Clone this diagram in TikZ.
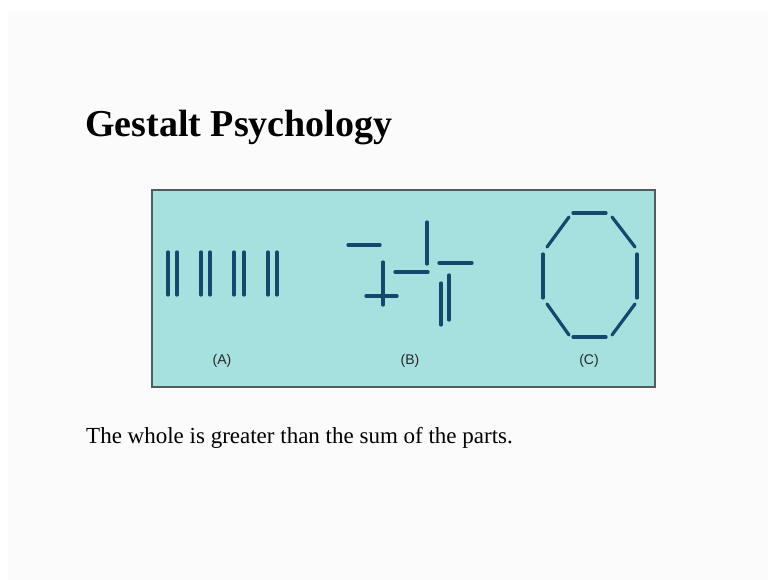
\documentclass[tikz,border=0pt]{standalone}
\usepackage{fontspec}
\setmainfont{Liberation Serif}
\newfontfamily\labelfont{Liberation Sans}
\usetikzlibrary{positioning}
\definecolor{panel}{RGB}{166,225,223}
\definecolor{barblue}{RGB}{20,72,108}
\definecolor{frame}{RGB}{85,90,92}
\definecolor{slide}{RGB}{251,251,251}

\begin{document}
\begin{tikzpicture}[
    x=1pt, y=-1pt,
    bar/.style={draw=barblue, line width=3.2pt, line cap=round},
    caption/.style={font=\labelfont\fontsize{14}{16}\selectfont, text=black!85, inner sep=0pt},
]
\useasboundingbox (0,0) rectangle (768,580);

% Slide background
\fill[slide] (8,11) rectangle (768,580);

% Title
\node[anchor=base west, inner sep=0pt, font=\bfseries\fontsize{38}{42}\selectfont] (title) at (85,136.5) {Gestalt Psychology};

% Figure panel
\draw[frame, fill=panel, line width=1.4pt] (152,190) rectangle (655,387);

% (A) pairs of lines
\draw[bar] (168,252) -- (168,295);
\draw[bar] (177,252) -- (177,295);
\draw[bar] (201,252) -- (201,295);
\draw[bar] (210,252) -- (210,295);
\draw[bar] (234,252) -- (234,295);
\draw[bar] (244,252) -- (244,295);
\draw[bar] (268,252) -- (268,295);
\draw[bar] (277,252) -- (277,295);

% (B) scattered lines
\draw[bar] (348,245) -- (380,245);
\draw[bar] (383,262) -- (383,305);
\draw[bar] (366,296) -- (397,296);
\draw[bar] (395,272) -- (428,272);
\draw[bar] (427,222) -- (427,264);
\draw[bar] (439,263) -- (472,263);
\draw[bar] (449,275) -- (449,320);
\draw[bar] (441,283) -- (441,325);

% (C) octagon
\draw[bar] (573,213) -- (606,213);
\draw[bar] (612,217) -- (635,247);
\draw[bar] (637,254) -- (637,298);
\draw[bar] (635,304) -- (612,335);
\draw[bar] (606,337) -- (573,337);
\draw[bar] (569,335) -- (547,304);
\draw[bar] (543,298) -- (543,254);
\draw[bar] (547,247) -- (569,217);

% Captions
\node[caption] (capA) at (222,361) {(A)};
\node[caption] (capB) at (410,361) {(B)};
\node[caption] (capC) at (589,361) {(C)};

% Statement
\node[anchor=base west, inner sep=0pt, font=\fontsize{23}{26}\selectfont] (whole) at (86,443) {The whole is greater than the sum of the parts.};

\end{tikzpicture}
\end{document}
